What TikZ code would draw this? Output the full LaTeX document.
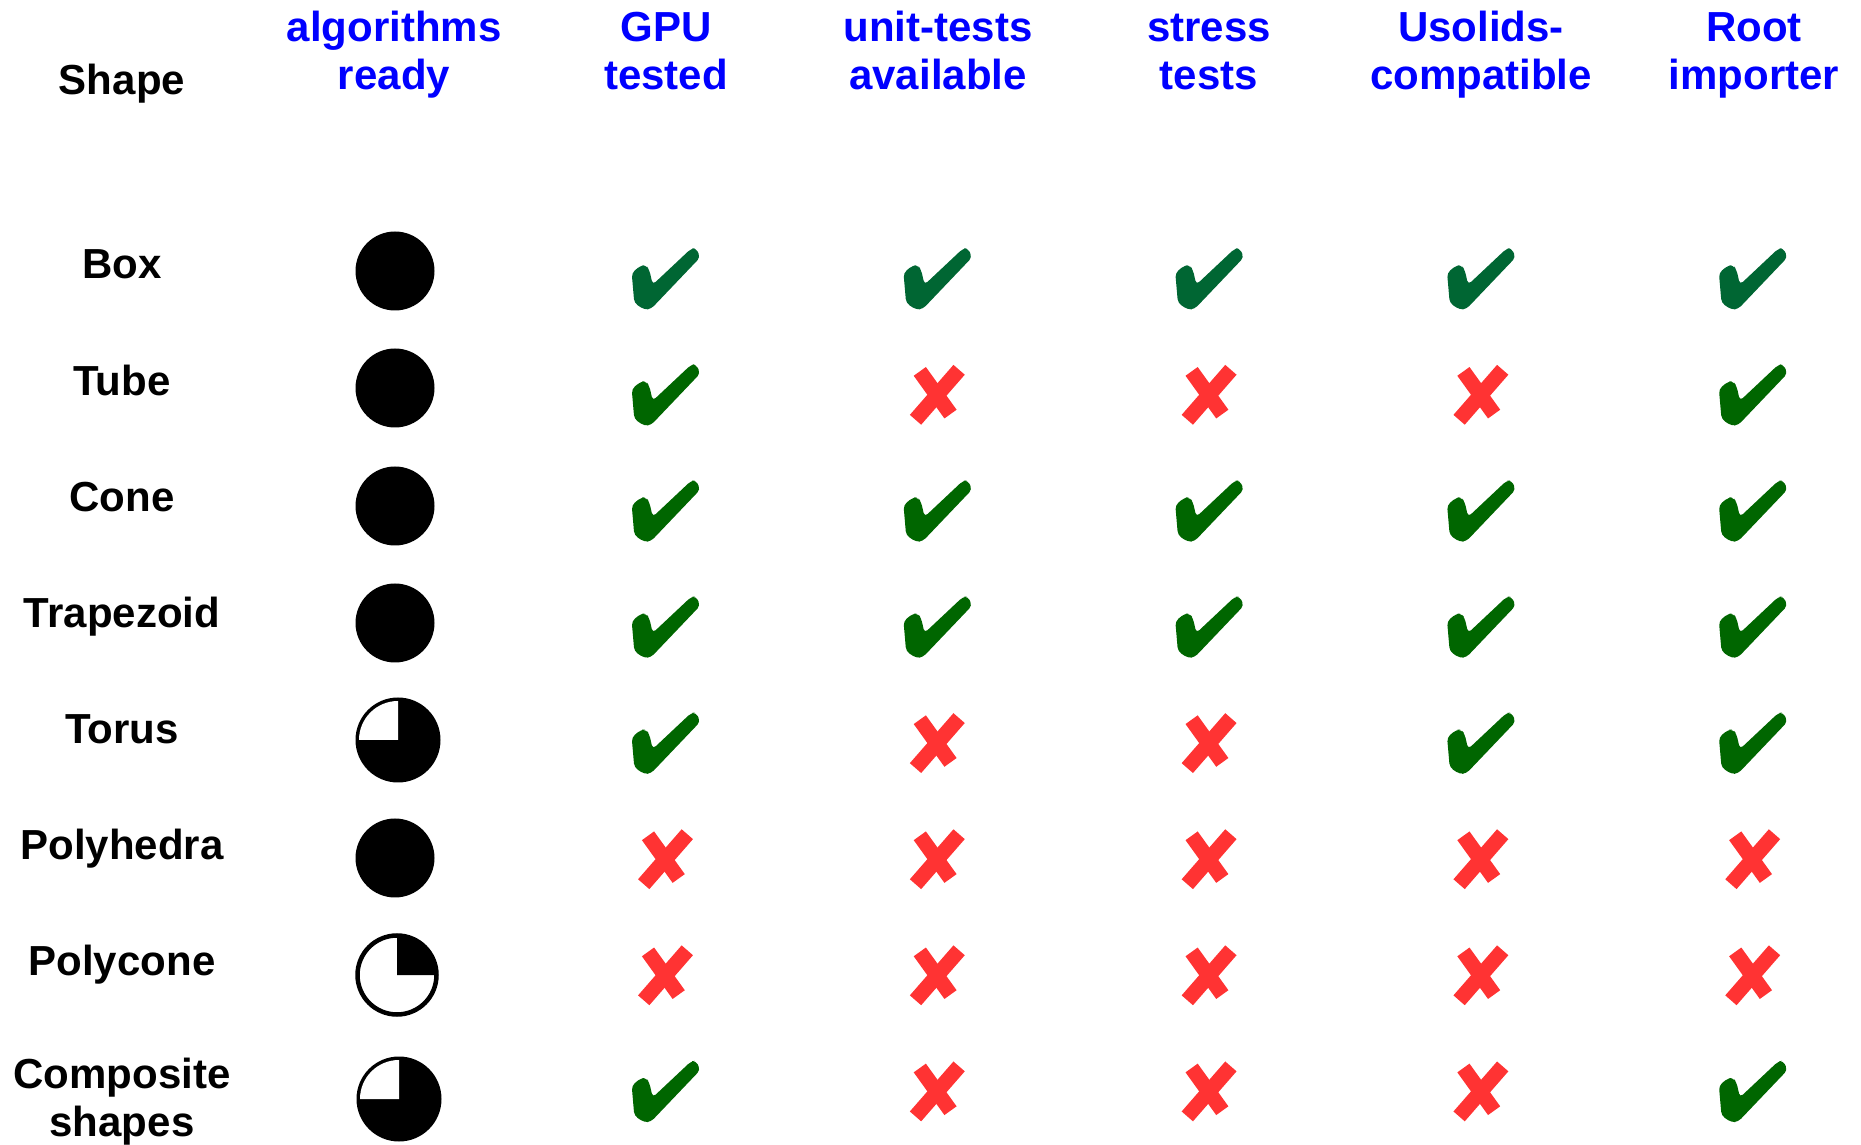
\documentclass[tikz,border=0pt]{standalone}
\usepackage{fontspec}
\setmainfont{Liberation Sans}
\usetikzlibrary{positioning}
\definecolor{hdrblue}{RGB}{0,0,255}
\definecolor{chkgreen}{RGB}{0,102,0}
\definecolor{chkteal}{RGB}{0,102,51}
\definecolor{xred}{RGB}{255,51,51}
\tikzset{
  hdr/.style={align=center,inner sep=0pt,anchor=base,text=hdrblue,font=\fontsize{42}{48}\selectfont\bfseries},
  lbl/.style={align=center,inner sep=0pt,anchor=base,font=\fontsize{42}{48}\selectfont\bfseries},
  fullc/.style={circle,fill=black,inner sep=0pt,minimum size=79pt},
  threeq/.style={circle,fill=black,inner sep=0pt,minimum size=85pt,
    path picture={\fill[white,shift={(path picture bounding box.center)}] (0,0) -- (-39,0) arc[start angle=180,end angle=90,radius=39] -- cycle;}},
  oneq/.style={circle,draw=black,line width=4.5pt,fill=white,inner sep=0pt,minimum size=79pt,
    path picture={\fill[black,shift={(path picture bounding box.center)}] (0,0) -- (40,0) arc[start angle=0,end angle=90,radius=40] -- cycle;}},
  chk/.style={inner sep=0pt,minimum size=80pt,
    path picture={\fill[#1,rounded corners=4pt,shift={(path picture bounding box.center)}]
      (-24,13.7) -- (-33.3,6) -- (-30.7,-24) -- (-20.7,-30.7) -- (-14,-30) -- (35.3,21.7)
      -- (31,31) -- (26,30.3) -- (-12.3,-5.7) -- (-15.7,9.3) -- (-19,13.7) -- cycle;}},
  chk/.default=chkgreen,
  xmark/.style={inner sep=0pt,minimum size=80pt,
    path picture={\begin{scope}[shift={(path picture bounding box.center)},xred,line width=15pt]
      \draw (-17,23.7) -- (13.7,-19);
      \draw (22.3,25.3) -- (-21.3,-24.7);
    \end{scope}}},
  mkt/.style={chk=chkteal},
  mkg/.style={chk=chkgreen},
  mkx/.style={xmark},
}
\begin{document}
\begin{tikzpicture}[x=1pt,y=1pt]
  \useasboundingbox (0,0) rectangle (1861,1144);
  % column heads (base = last line)
  \node[lbl] (shape) at (122,1049) {Shape};
  \node[hdr] (alg) at (394,1054) {algorithms\\ready};
  \node[hdr] (gpu) at (666,1054) {GPU\\tested};
  \node[hdr] (unit) at (938,1054) {unit-tests\\available};
  \node[hdr] (stress) at (1209,1054) {stress\\tests};
  \node[hdr] (usol) at (1481,1054) {Usolids-\\compatible};
  \node[hdr] (root) at (1754,1054) {Root\\importer};
  % shape names
  \foreach \name [count=\i] in {Box,Tube,Cone,Trapezoid,Torus,Polyhedra,Polycone}
    \node[lbl] (s\i) at (122,{865-116.1*(\i-1)}) {\name};
  \node[lbl] (s8) at (122,8) {Composite\\shapes};
  % algorithms ready
  \node[fullc] (a1) at (395,873) {};
  \node[fullc] (a2) at (395,756) {};
  \node[fullc] (a3) at (395,638) {};
  \node[fullc] (a4) at (395,521) {};
  \node[threeq] (a5) at (398,404) {};
  \node[fullc] (a6) at (395,286) {};
  \node[oneq] (a7) at (397,169) {};
  \node[threeq] (a8) at (399,45) {};
  % tick / cross marks
  \foreach \marks [count=\i] in {{t,t,t,t,t},{g,x,x,x,g},{g,g,g,g,g},{g,g,g,g,g},
                                 {g,x,x,g,g},{x,x,x,x,x},{x,x,x,x,x},{g,x,x,x,g}}
    \foreach \m [count=\j] in \marks
      \node[mk\m] (m\i-\j) at ({665+271.8*(\j-1)},{865-116.1*(\i-1)}) {};
\end{tikzpicture}
\end{document}
